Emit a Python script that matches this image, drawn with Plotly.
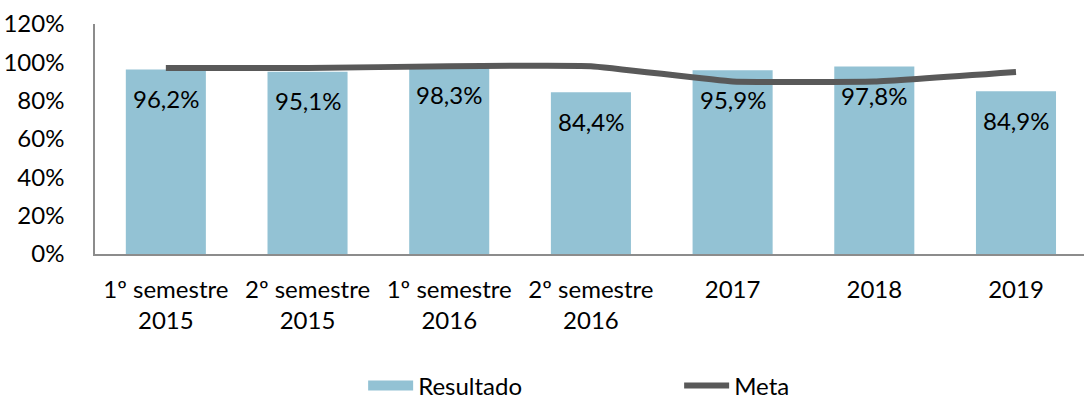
import plotly.graph_objects as go

categories = ["1º semestre<br>2015", "2º semestre<br>2015", "1º semestre<br>2016",
              "2º semestre<br>2016", "2017", "2018", "2019"]
resultado = [96.2, 95.1, 98.3, 84.4, 95.9, 97.8, 84.9]
meta = [97, 97, 98, 98, 90, 90, 95]
labels = ["96,2%", "95,1%", "98,3%", "84,4%", "95,9%", "97,8%", "84,9%"]
y_ticks = [0, 20, 40, 60, 80, 100, 120]
y_tick_text = ["0%", "20%", "40%", "60%", "80%", "100%", "120%"]

FONT = "Lato"
FS = 24
BAR_COLOR = "#93C2D4"
x_idx = list(range(len(categories)))

fig = go.Figure()
fig.add_trace(go.Bar(
    x=x_idx, y=resultado, name="Resultado", width=0.565, showlegend=False,
    legendgroup="res",
    marker=dict(color=BAR_COLOR, line=dict(width=0)),
))
# legend entry for bars drawn as a wide block
fig.add_trace(go.Scatter(
    x=[None], y=[None], name="Resultado", mode="lines", legendgroup="res",
    line=dict(color=BAR_COLOR, width=14),
))
fig.add_trace(go.Scatter(
    x=x_idx, y=meta, name="Meta", mode="lines",
    line=dict(color="#595959", width=6, shape="spline", smoothing=0.3),
))

for xi, v, t in zip(x_idx, resultado, labels):
    fig.add_annotation(x=xi, y=v, text=t, showarrow=False, yshift=-29,
                       yanchor="middle", font=dict(family=FONT, size=FS, color="#000000"))

fig.update_layout(
    width=1084, height=400,
    margin=dict(l=95, r=0, t=24, b=146, autoexpand=False),
    plot_bgcolor="white", paper_bgcolor="white",
    font=dict(family=FONT, size=FS, color="#000000"),
    showlegend=True,
    legend=dict(orientation="h", xref="container", yref="container",
                x=0.335, xanchor="left", y=0.035, yanchor="middle",
                entrywidth=256, entrywidthmode="pixels",
                font=dict(family=FONT, size=FS), itemwidth=45),
    xaxis=dict(range=[-0.5, 6.48], tickvals=x_idx, ticktext=categories,
               showline=True, linecolor="#8C8C8C", linewidth=1.5, ticks="",
               showgrid=False, zeroline=False, fixedrange=True,
               ticklabelstandoff=13),
    yaxis=dict(range=[0, 120], tickvals=y_ticks, ticktext=y_tick_text,
               showline=True, linecolor="#8C8C8C", linewidth=1.5, ticks="",
               showgrid=False, zeroline=False, ticklabelstandoff=24),
    bargap=0.43,
)

fig.write_html("out.html", config={"displayModeBar": False})

# remove the default page margin so the figure sits at the window's corner
with open("out.html", "r", encoding="utf-8") as f:
    html = f.read()
html = html.replace("<head>", "<head><style>html,body{margin:0;padding:0;overflow:hidden;}</style>", 1)
with open("out.html", "w", encoding="utf-8") as f:
    f.write(html)
